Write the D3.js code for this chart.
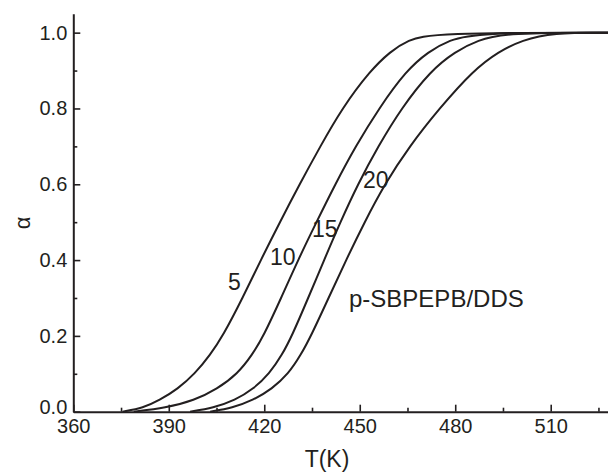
<!DOCTYPE html>
<html>
<head>
<meta charset="utf-8">
<script src="https://cdn.jsdelivr.net/npm/d3@7"></script>
<style>
  html, body { margin: 0; padding: 0; background: #fff; }
  svg { display: block; font-family: "Liberation Sans", Arial, Helvetica, sans-serif; }
</style>
</head>
<body>
<svg id="chart" width="608" height="474"></svg>
<script>
// Conversion levels (alpha) and the temperature (K) at which each heating-rate curve reaches them
const alphaLevels = [0, 0.01, 0.03, 0.06, 0.1, 0.15, 0.2, 0.3, 0.4, 0.5, 0.6, 0.7, 0.8, 0.9, 0.95, 0.98, 1];
const heatingRates = ["5", "10", "15", "20"];
const tempRate5  = [375.5, 382, 387, 392.8, 398.2, 403, 407, 413.2, 418.9, 424.9, 431.1, 437.6, 444.4, 453.3, 459.6, 465, 473];
const tempRate10 = [379, 389, 398, 405.2, 411.6, 416.2, 419.8, 425.3, 430.6, 436.4, 442.3, 448.7, 456, 464.6, 471.6, 478, 486.7];
const tempRate15 = [396.7, 404, 410.8, 416.6, 421.6, 425.6, 428.7, 433.8, 438.8, 443.9, 449.4, 455.8, 463, 472.3, 480, 487, 496];
const tempRate20 = [403, 410, 416.4, 422.4, 427.6, 431.5, 434.7, 440.2, 445.7, 451.5, 457.8, 465.6, 475, 485.6, 493.6, 501, 510.5];
const xMajorTicks = [360, 390, 420, 450, 480, 510];
const xMinorTicks = [375, 405, 435, 465, 495, 525];
const yMajorTicks = [0, 0.2, 0.4, 0.6, 0.8, 1.0];
const yMinorTicks = [0.1, 0.3, 0.5, 0.7, 0.9];
const xDomain = [360, 528];
const yDomain = [0, 1.05];
const xTitle = "T(K)";
const yTitle = "α";
const sampleName = "p-SBPEPB/DDS";

const ink = "#231f20";
const svg = d3.select("#chart");
svg.append("rect").attr("width", 608).attr("height", 474).attr("fill", "#fff");

const x = d3.scaleLinear().domain(xDomain).range([73.3, 608]);
const y = d3.scaleLinear().domain(yDomain).range([411.7, 13.7]);

const seriesTemps = [tempRate5, tempRate10, tempRate15, tempRate20];
const series = heatingRates.map((rate, i) => {
  const pts = alphaLevels.map((a, j) => ({ T: seriesTemps[i][j], a }));
  pts.push({ T: xDomain[1], a: 1 });   // plateau after full conversion
  return { rate, pts };
});

const line = d3.line()
  .x(d => x(d.T))
  .y(d => y(d.a))
  .curve(d3.curveBasis);

svg.append("g")
  .selectAll("path")
  .data(series)
  .join("path")
  .attr("d", d => line(d.pts))
  .attr("fill", "none")
  .attr("stroke", ink)
  .attr("stroke-width", 2)
  .attr("stroke-linejoin", "round");

// Axes with inward ticks
function styleAxis(g) {
  g.selectAll("path.domain").attr("stroke", ink).attr("stroke-width", 2);
  g.selectAll(".tick line").attr("stroke", ink).attr("stroke-width", 1.6);
  g.selectAll(".tick text").attr("fill", ink).attr("font-size", 20)
    .attr("font-family", "Liberation Sans, Arial, sans-serif");
}

svg.append("g")
  .attr("transform", "translate(0,411.7)")
  .call(d3.axisBottom(x).tickValues(xMinorTicks).tickSize(-4).tickFormat(""))
  .call(g => g.select("path.domain").remove())
  .call(styleAxis);

svg.append("g")
  .attr("transform", "translate(73.3,0)")
  .call(d3.axisLeft(y).tickValues(yMinorTicks).tickSize(-4).tickFormat(""))
  .call(g => g.select("path.domain").remove())
  .call(styleAxis);

svg.append("g")
  .attr("transform", "translate(0,411.7)")
  .call(d3.axisBottom(x).tickValues(xMajorTicks).tickSizeInner(-7).tickSizeOuter(0).tickPadding(7).tickFormat(d3.format("d")))
  .call(styleAxis);

svg.append("g")
  .attr("transform", "translate(73.3,0)")
  .call(d3.axisLeft(y).tickValues(yMajorTicks).tickSizeInner(-7).tickSizeOuter(0).tickPadding(6).tickFormat(d3.format(".1f")))
  .call(styleAxis)
  // lift the zero label slightly so it clears the first x label
  .call(g => g.selectAll(".tick text").filter(d => d === 0).attr("dy", "0.1em"));

// Axis titles
svg.append("text")
  .attr("x", 327).attr("y", 467)
  .attr("text-anchor", "middle")
  .attr("font-size", 23).attr("fill", ink)
  .text(xTitle);

svg.append("text")
  .attr("transform", "translate(30,223) rotate(-90)")
  .attr("text-anchor", "middle")
  .attr("font-size", 22).attr("fill", ink)
  .text(yTitle);

// Heating-rate labels beside each curve
const labelPos = [
  { x: 228, y: 290 },
  { x: 270, y: 265 },
  { x: 312, y: 237 },
  { x: 363, y: 188 }
];
svg.append("g")
  .selectAll("text")
  .data(heatingRates)
  .join("text")
  .attr("x", (d, i) => labelPos[i].x)
  .attr("y", (d, i) => labelPos[i].y)
  .attr("font-size", 23).attr("fill", ink)
  .text(d => d);

svg.append("text")
  .attr("x", 349).attr("y", 307)
  .attr("font-size", 24).attr("fill", ink)
  .text(sampleName);
</script>
</body>
</html>
